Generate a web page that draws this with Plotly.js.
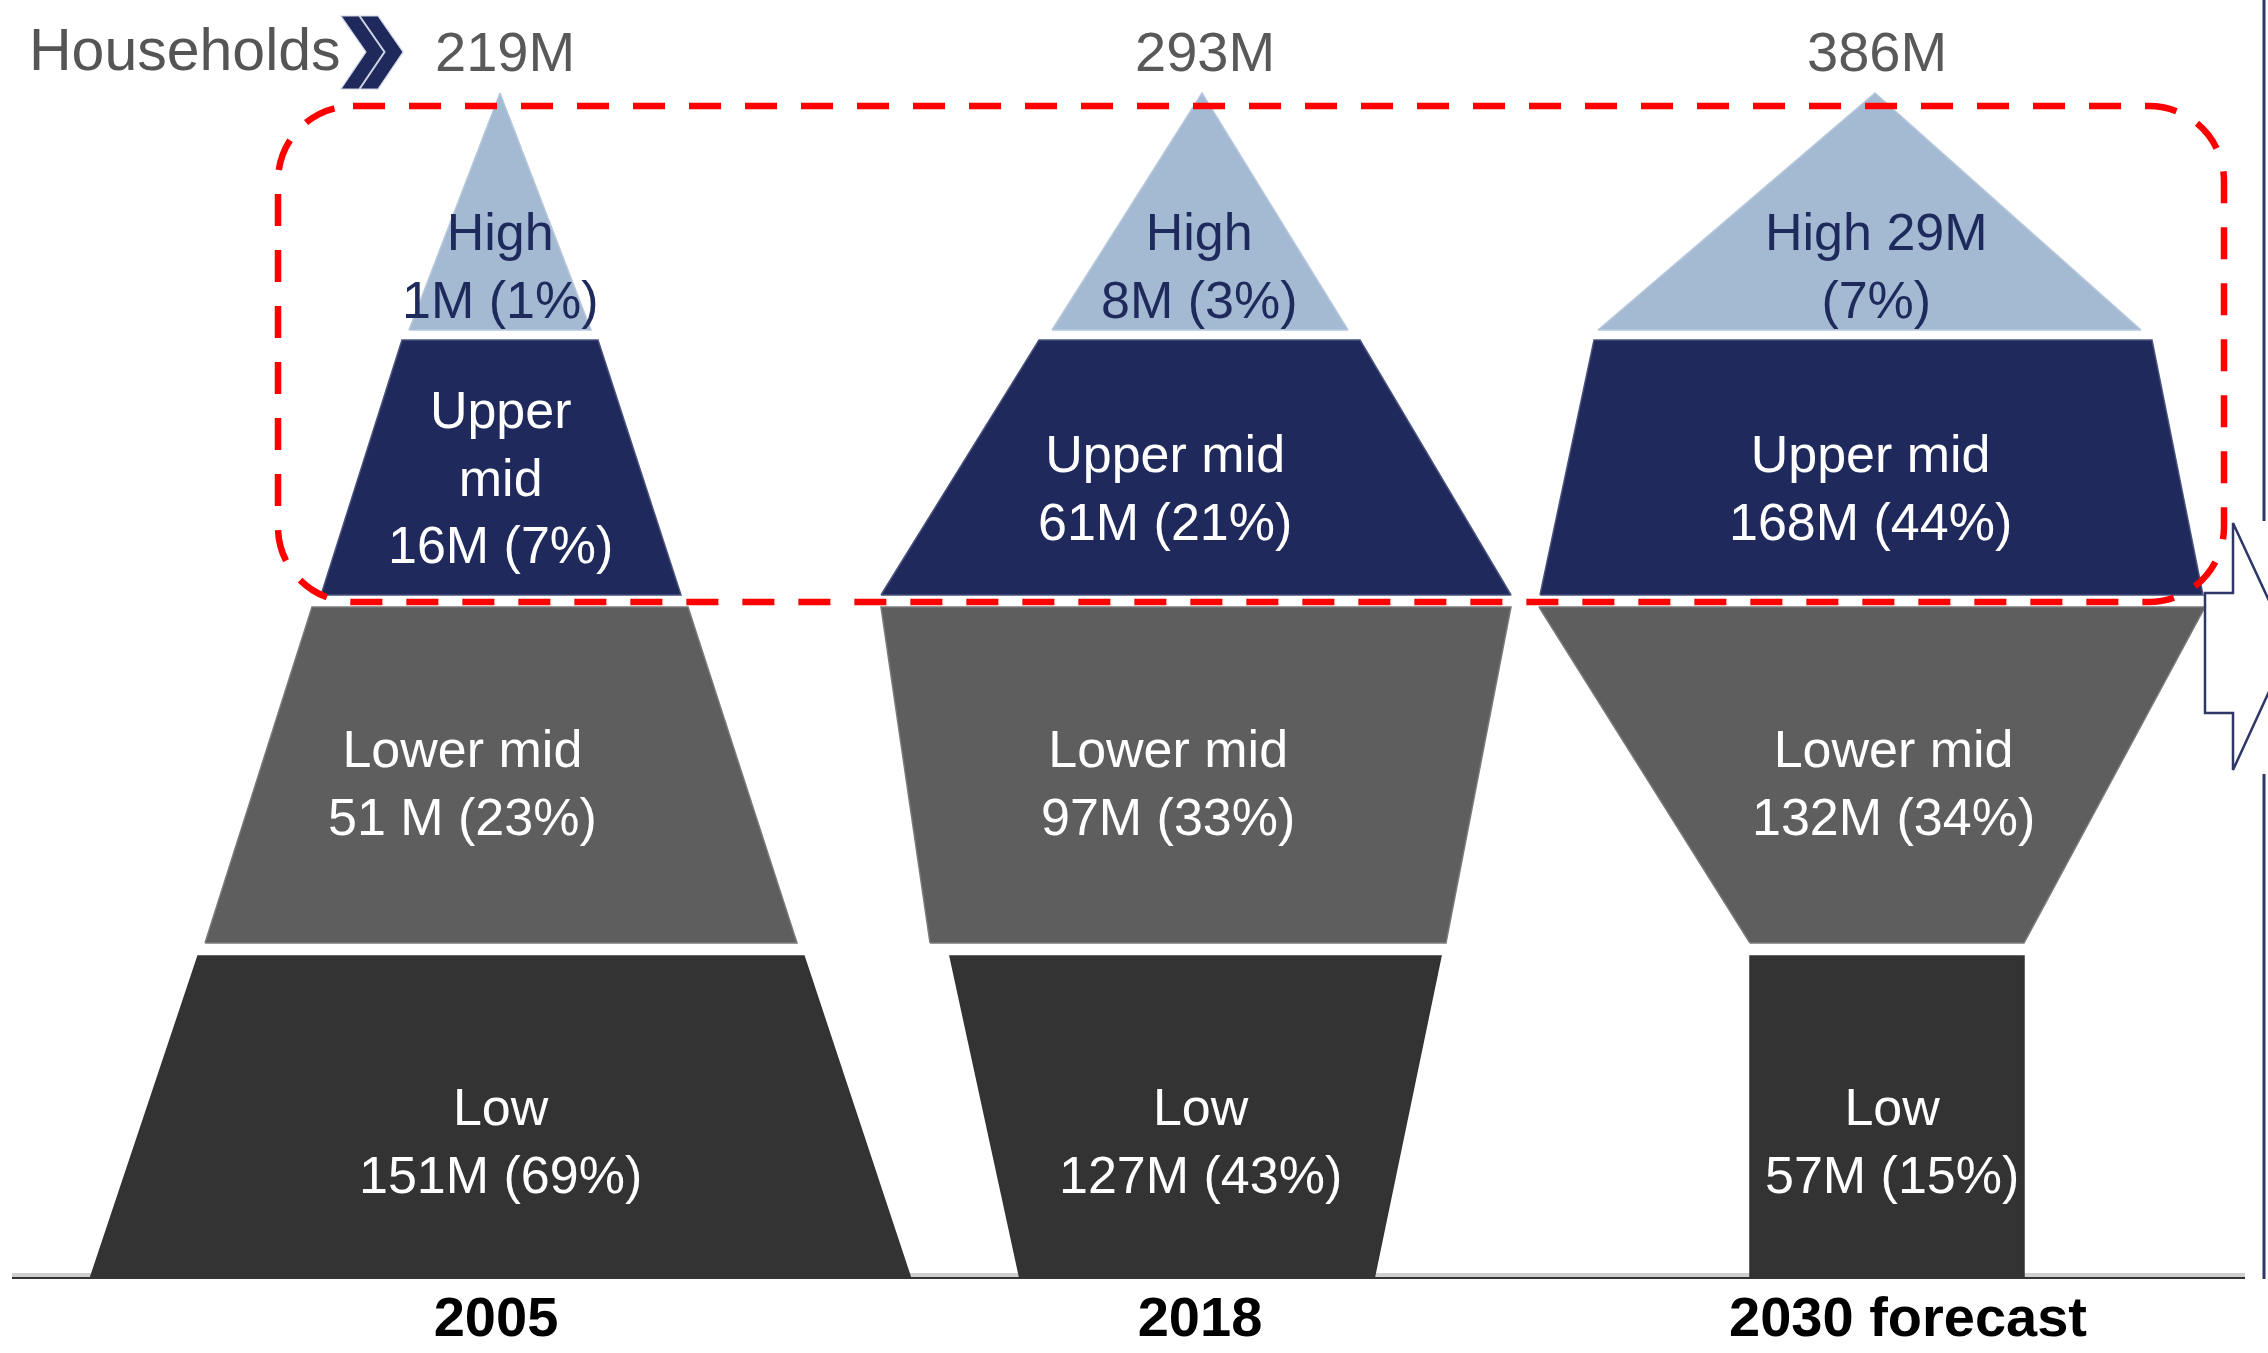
<!DOCTYPE html>
<html><head><meta charset="utf-8">
<script src="https://cdn.plot.ly/plotly-3.0.1.min.js"></script>
<style>html,body{margin:0;padding:0;background:#fff}</style>
</head><body><div id="chart" style="width:2268px;height:1353px"></div>
<script>
// ---------------- data ----------------
const years = ['2005', '2018', '2030 forecast'];
const segments = ['Low', 'Lower mid', 'Upper mid', 'High'];
const totalHouseholdsM = [219, 293, 386];
const lowM = [151, 127, 57];
const lowPct = [69, 43, 15];
const lowerMidM = [51, 97, 132];
const lowerMidPct = [23, 33, 34];
const upperMidM = [16, 61, 168];
const upperMidPct = [7, 21, 44];
const highM = [1, 8, 29];
const highPct = [1, 3, 7];
const headerLabel = 'Households';

const segValues = [lowM, lowerMidM, upperMidM, highM];
const segPcts = [lowPct, lowerMidPct, upperMidPct, highPct];

// label line layout per segment / year
const labelTemplates = [
  ['Low<br>{v}M ({p}%)', 'Low<br>{v}M ({p}%)', 'Low<br>{v}M ({p}%)'],
  ['Lower mid<br>{v} M ({p}%)', 'Lower mid<br>{v}M ({p}%)', 'Lower mid<br>{v}M ({p}%)'],
  ['Upper<br>mid<br>{v}M ({p}%)', 'Upper mid<br>{v}M ({p}%)', 'Upper mid<br>{v}M ({p}%)'],
  ['High<br>{v}M ({p}%)', 'High<br>{v}M ({p}%)', 'High {v}M<br>({p}%)']
];

// ---------------- geometry (x: px from left, y: px rows from top) ----------------
const BASE = 1279; // baseline pixel row
const layerRows = [[1279, 956], [943, 607], [595, 340], [330, 93]]; // [bottom row, top row]
// [bottomLeft, bottomRight, topLeft, topRight] per segment, per year
const layerEdges = [
  [[90, 911, 198, 804], [1020, 1374, 950, 1441], [1750, 2024, 1750, 2024]],
  [[205, 797, 312, 688], [930, 1446, 881, 1511], [1750, 2024, 1539, 2205]],
  [[321, 681, 402, 598], [881, 1511, 1039, 1360], [1540, 2203, 1594, 2152]],
  [[409, 591, 500, 500], [1052, 1348, 1202, 1202], [1598, 2141, 1875, 1875]]
];
const labelPos = [
  [[500, 1141], [1200, 1141], [1892, 1141]],
  [[462, 783], [1168, 783], [1893, 783]],
  [[500, 477], [1165, 488], [1870, 488]],
  [[500, 266], [1199, 266], [1876, 266]]
];
const totalPos = [[505, 51], [1205, 51], [1877, 51]];
const yearTickX = [496, 1200, 1908];

// ---------------- styles ----------------
const segColors = ['#333333', '#5e5e5e', '#1f295c', '#a4b9d2'];
const segEdge = ['#333333', '#7a7a7a', '#4a527c', '#b7c8dc'];
const segTextColors = ['#ffffff', '#ffffff', '#ffffff', '#1f2a5c'];
const FONT = 'Liberation Sans, Arial, Helvetica, sans-serif';

const py = p => BASE - p;

const traces = [];
const annotations = [];
segments.forEach((seg, si) => {
  years.forEach((yr, yi) => {
    const [bl, br, tl, tr] = layerEdges[si][yi];
    const y0 = py(layerRows[si][0]), y1 = py(layerRows[si][1]);
    traces.push({
      type: 'scatter', mode: 'lines', name: seg + ' ' + yr,
      x: [bl, br, tr, tl, bl], y: [y0, y0, y1, y1, y0],
      fill: 'toself', fillcolor: segColors[si],
      line: { width: 1.5, color: segEdge[si] },
      hoverinfo: 'skip', showlegend: false
    });
    const txt = labelTemplates[si][yi]
      .replace('{v}', segValues[si][yi]).replace('{p}', segPcts[si][yi]);
    annotations.push({
      x: labelPos[si][yi][0], y: py(labelPos[si][yi][1]), xref: 'x', yref: 'y',
      text: txt, showarrow: false, xanchor: 'center', yanchor: 'middle',
      font: { family: FONT, size: 52, color: segTextColors[si] }
    });
  });
});

totalHouseholdsM.forEach((t, i) => {
  annotations.push({
    x: totalPos[i][0], y: py(totalPos[i][1]), xref: 'x', yref: 'y',
    text: t + 'M', showarrow: false, xanchor: 'center', yanchor: 'middle',
    font: { family: FONT, size: 56, color: '#595959' }
  });
});
annotations.push({
  x: 27, y: py(50), xref: 'x', yref: 'y', text: headerLabel, showarrow: false,
  xanchor: 'left', yanchor: 'middle',
  font: { family: FONT, size: 59, color: '#555555' }
});

// rounded dashed frame
function roundRect(x0, x1, top, bot, r) {
  const k = 0.4477 * r;
  const T = py(top), B = py(bot);
  return `M ${x0 + r},${T} L ${x1 - r},${T} C ${x1 - k},${T} ${x1},${T - k} ${x1},${T - r} ` +
    `L ${x1},${B + r} C ${x1},${B + k} ${x1 - k},${B} ${x1 - r},${B} ` +
    `L ${x0 + r},${B} C ${x0 + k},${B} ${x0},${B + k} ${x0},${B + r} ` +
    `L ${x0},${T - r} C ${x0},${T - k} ${x0 + k},${T} ${x0 + r},${T} Z`;
}
function poly(pts) {
  return 'M ' + pts.map(p => `${p[0]},${py(p[1])}`).join(' L ') + ' Z';
}

const shapes = [
  { type: 'rect', xref: 'x', yref: 'y', x0: 12, x1: 2245, y0: py(1277), y1: py(1273), fillcolor: '#cfcfcf', line: { width: 0 }, layer: 'below' },
  { type: 'line', xref: 'x', yref: 'y', x0: 12, x1: 2245, y0: py(1279), y1: py(1279), line: { color: '#333333', width: 4 } },
  { type: 'line', xref: 'x', yref: 'y', x0: 2264, x1: 2264, y0: py(0), y1: py(521), line: { color: '#2e3766', width: 3 } },
  { type: 'line', xref: 'x', yref: 'y', x0: 2264, x1: 2264, y0: py(774), y1: py(1281), line: { color: '#2e3766', width: 3 } },
  { type: 'path', xref: 'x', yref: 'y',
    path: poly([[2205, 593], [2233, 593], [2233, 523], [2290, 646], [2233, 770], [2233, 713], [2205, 713]]),
    fillcolor: '#ffffff', line: { color: '#2e3766', width: 2.5 } },
  { type: 'path', xref: 'x', yref: 'y',
    path: poly([[341, 16], [359, 16], [384, 52], [359, 89], [341, 89], [366, 52]]),
    fillcolor: '#1f295c', line: { color: '#cdd2e2', width: 1.2 } },
  { type: 'path', xref: 'x', yref: 'y',
    path: poly([[360, 16], [378, 16], [403, 52], [378, 89], [360, 89], [385, 52]]),
    fillcolor: '#1f295c', line: { color: '#cdd2e2', width: 1.2 } },
  { type: 'path', xref: 'x', yref: 'y', path: roundRect(278, 2224, 106, 602, 75),
    line: { color: '#ff0000', width: 6.5, dash: '32px,24px' } }
];

const layout = {
  width: 2268, height: 1353,
  margin: { l: 0, r: 0, t: 0, b: 1353 - BASE },
  paper_bgcolor: '#ffffff', plot_bgcolor: '#ffffff',
  showlegend: false,
  xaxis: {
    range: [0, 2268], showgrid: false, zeroline: false, showline: false,
    tickmode: 'array', tickvals: yearTickX, ticktext: years, ticks: '',
    ticklabelstandoff: 0,
    tickfont: { family: FONT, size: 56, color: '#000000', weight: 'bold' },
    fixedrange: true
  },
  yaxis: { range: [0, BASE], visible: false, fixedrange: true },
  shapes: shapes,
  annotations: annotations
};

Plotly.newPlot('chart', traces, layout, { displayModeBar: false, staticPlot: true });
</script></body></html>
